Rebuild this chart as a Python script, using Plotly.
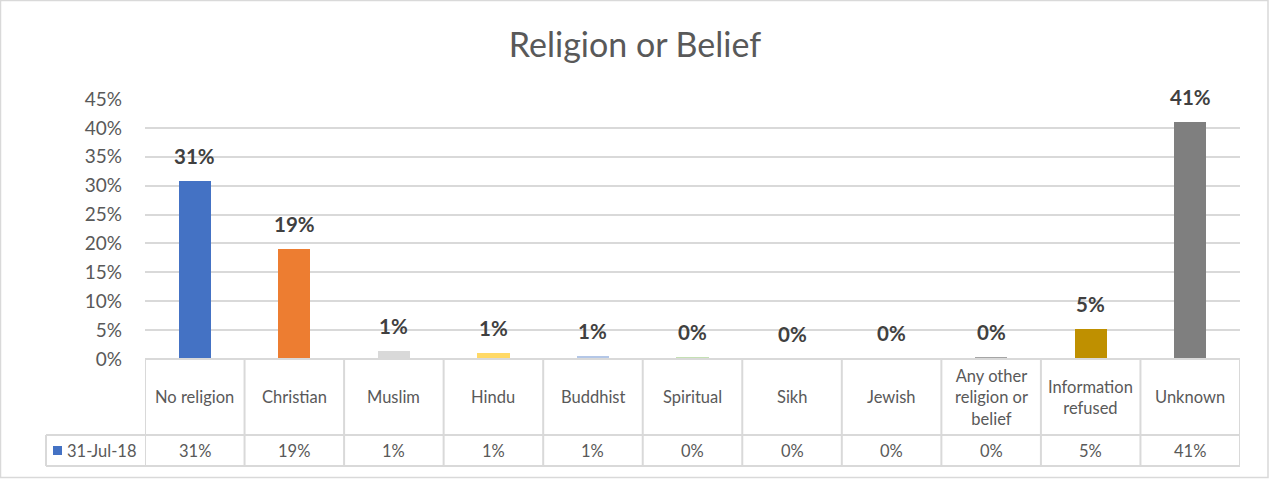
import plotly.graph_objects as go

categories = ["No religion", "Christian", "Muslim", "Hindu", "Buddhist", "Spiritual",
              "Sikh", "Jewish", "Any other<br>religion or<br>belief", "Information<br>refused", "Unknown"]
values = [30.8, 19.0, 1.35, 1.0, 0.6, 0.3, 0.05, 0.15, 0.35, 5.2, 41.0]
colors = ["#4472C4", "#ED7D31", "#D9D9D9", "#FFD966", "#B4C7E7", "#C5E0B4",
          "#9DC3E6", "#F8CBAD", "#A5A5A5", "#BF9000", "#7F7F7F"]
series_name = "31-Jul-18"
y_ticks = [0, 5, 10, 15, 20, 25, 30, 35, 40, 45]

W, H = 1270, 479
L, R, T, B = 145, 30, 99, 120
pw, ph = W - L - R, H - T - B

def px_x(p):
    return (p - L) / pw

def px_y(p):
    return (H - B - p) / ph

FONT = "Lato, 'Open Sans', sans-serif"
GRID = "#D9D9D9"
TXT = "#595959"

xs = list(range(len(categories)))
fig = go.Figure()
fig.add_trace(go.Bar(
    x=xs, y=[v / 100 for v in values], width=0.325,
    marker=dict(color=colors, line=dict(width=0)),
    name=series_name, showlegend=False, hoverinfo="skip",
))

annotations = []
shapes = []
# data labels
for i, v in enumerate(values):
    annotations.append(dict(x=i, y=v / 100, xref="x", yref="y", text=f"<b>{int(v + 0.5)}%</b>",
                            showarrow=False, yanchor="bottom", yshift=11,
                            font=dict(family=FONT, size=20.5, color="#404040")))

row1_top = 0
row1_bot = px_y(435)
row2_bot = px_y(466)
legend_left = px_x(46)

TF = 16.5
for i, (c, v) in enumerate(zip(categories, values)):
    annotations.append(dict(x=i, y=(row1_top + row1_bot) / 2, xref="x", yref="paper", text=c,
                            showarrow=False, yanchor="middle",
                            font=dict(family=FONT, size=TF, color=TXT)))
    annotations.append(dict(x=i, y=(row1_bot + row2_bot) / 2, xref="x", yref="paper",
                            text=f"{int(v + 0.5)}%", showarrow=False, yanchor="middle",
                            font=dict(family=FONT, size=TF, color=TXT)))
annotations.append(dict(x=px_x(65), y=(row1_bot + row2_bot) / 2, xref="paper", yref="paper",
                        text=series_name, showarrow=False, xanchor="left", yanchor="middle",
                        font=dict(family=FONT, size=TF, color=TXT)))
shapes.append(dict(type="rect", xref="paper", yref="paper", x0=px_x(53), x1=px_x(62),
                   y0=px_y(455), y1=px_y(446), fillcolor=colors[0], line=dict(width=0)))

line = dict(color=GRID, width=2)
n = len(categories)
shapes.append(dict(type="line", xref="x", yref="paper", x0=-0.5, x1=n - 0.5, y0=0, y1=0, line=line))
shapes.append(dict(type="line", xref="paper", yref="paper", x0=legend_left, x1=1, y0=row1_bot, y1=row1_bot, line=line))
shapes.append(dict(type="line", xref="paper", yref="paper", x0=legend_left, x1=1, y0=row2_bot, y1=row2_bot, line=line))
for k in range(n + 1):
    shapes.append(dict(type="line", xref="x", yref="paper", x0=k - 0.5, x1=k - 0.5,
                       y0=0, y1=row2_bot, line=line))
shapes.append(dict(type="line", xref="paper", yref="paper", x0=legend_left, x1=legend_left,
                   y0=row1_bot, y1=row2_bot, line=line))
shapes.append(dict(type="rect", xref="paper", yref="paper", x0=px_x(0.5), x1=px_x(1268),
                   y0=px_y(477.5), y1=px_y(0.5), line=dict(color=GRID, width=1.5), layer="below"))

fig.update_layout(
    width=W, height=H,
    margin=dict(l=L, r=R, t=T, b=B, pad=0),
    paper_bgcolor="white", plot_bgcolor="white",
    title=dict(text="Religion or Belief", x=0.5, xref="container", xanchor="center",
               y=1 - 45 / H, yref="container", yanchor="middle",
               font=dict(family=FONT, size=34, color=TXT)),
    xaxis=dict(range=[-0.5, n - 0.5], showticklabels=False, showgrid=False, zeroline=False,
               fixedrange=True),
    yaxis=dict(range=[0, 0.45], tickvals=[t / 100 for t in y_ticks],
               ticktext=[f"{t}%" for t in y_ticks], showgrid=True, gridcolor=GRID, gridwidth=2,
               zeroline=False, ticks="", ticklabelstandoff=22,
               tickfont=dict(family=FONT, size=19, color=TXT)),
    annotations=annotations, shapes=shapes, bargap=0,
)

fig.write_html("out.html")
